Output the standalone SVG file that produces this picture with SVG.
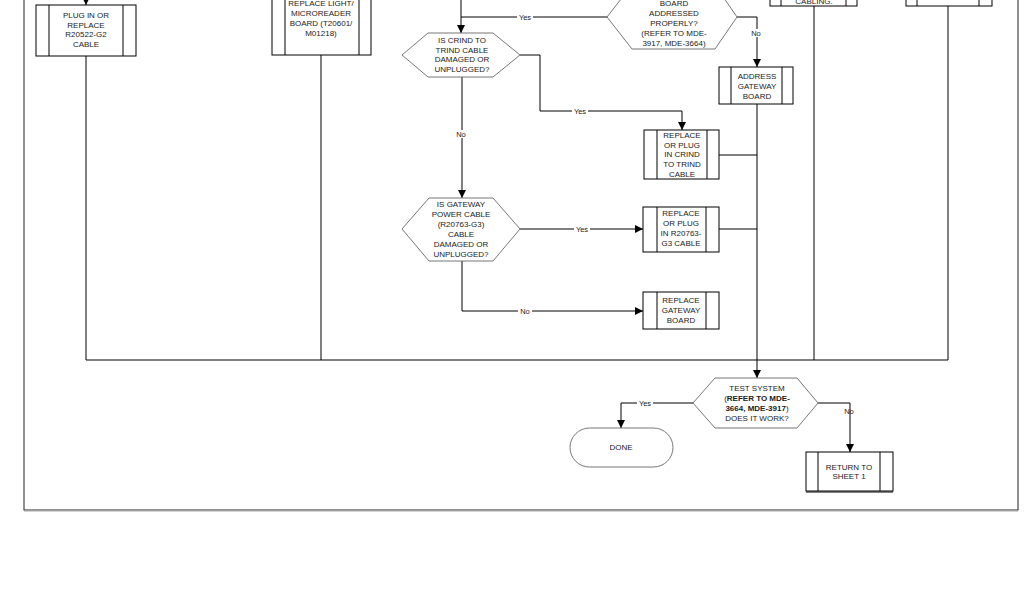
<svg xmlns="http://www.w3.org/2000/svg" width="1024" height="600" viewBox="0 0 1024 600">
<defs>
<marker id="arr" markerUnits="userSpaceOnUse" markerWidth="8" markerHeight="8" refX="8" refY="4" orient="auto">
<path d="M0,0 L8,4 L0,8 z" fill="#000"/>
</marker>
<style>
.box{fill:#fff;stroke:#000;stroke-width:1}
.in{stroke:#000;stroke-width:1}
.hex{fill:#fff;stroke:#777;stroke-width:1}
.t{font-family:"Liberation Sans",Arial,sans-serif;font-size:8px;fill:#222;text-anchor:middle}
.b{font-weight:bold}
.ln{fill:none;stroke:#000;stroke-width:1}
.lbl{font-family:"Liberation Sans",Arial,sans-serif;font-size:7.5px;fill:#222;text-anchor:middle}
.lb{fill:#fff}
</style>
</defs>
<rect x="0" y="0" width="1024" height="600" fill="#fff"/>
<rect x="24" y="-10" width="994" height="520" fill="none" stroke="#222" stroke-width="1"/>
<line x1="24" y1="511" x2="1018" y2="511" stroke="#aaa" stroke-width="1"/>

<g id="connectors">
<path class="ln" d="M86,-2 L86,5" marker-end="url(#arr)"/>
<path class="ln" d="M461,-2 L461,33" marker-end="url(#arr)"/>
<path class="ln" d="M608,17 L461,17"/>
<path class="ln" d="M520,55 L540,55 L540,111 L682,111 L682,130" marker-end="url(#arr)"/>
<path class="ln" d="M462,77 L462,198" marker-end="url(#arr)"/>
<path class="ln" d="M520,229 L643,229" marker-end="url(#arr)"/>
<path class="ln" d="M462,261 L462,311 L643,311" marker-end="url(#arr)"/>
<path class="ln" d="M737,17 L757,17 L757,67" marker-end="url(#arr)"/>
<path class="ln" d="M757,104 L757,378" marker-end="url(#arr)"/>
<path class="ln" d="M719,155 L757,155"/>
<path class="ln" d="M719,229 L757,229"/>
<path class="ln" d="M86,56 L86,360 L948,360 L948,6"/>
<path class="ln" d="M321,55 L321,360"/>
<path class="ln" d="M814,6 L814,360"/>
<path class="ln" d="M693,403 L621,403 L621,428" marker-end="url(#arr)"/>
<path class="ln" d="M818,403 L850,403 L850,452" marker-end="url(#arr)"/>
<rect class="lb" x="517" y="13" width="16" height="8"/><text class="lbl" x="525" y="19.5">Yes</text>
<rect class="lb" x="572" y="107" width="16" height="8"/><text class="lbl" x="580" y="113.5">Yes</text>
<rect class="lb" x="455" y="130" width="14" height="8"/><text class="lbl" x="461" y="136.5">No</text>
<rect class="lb" x="574" y="225" width="16" height="8"/><text class="lbl" x="582" y="231.5">Yes</text>
<rect class="lb" x="518" y="307" width="14" height="8"/><text class="lbl" x="525" y="313.5">No</text>
<rect class="lb" x="750" y="29" width="14" height="8"/><text class="lbl" x="756" y="35.5">No</text>
<rect class="lb" x="637" y="399" width="16" height="8"/><text class="lbl" x="645" y="405.5">Yes</text>
<text class="lbl" x="849" y="413.5">No</text>
</g>

<g id="n-plug-r20522">
<rect class="box" x="36" y="5" width="100" height="51"/>
<line class="in" x1="49" y1="5" x2="49" y2="56"/><line class="in" x1="123" y1="5" x2="123" y2="56"/>
<text class="t" x="86" y="18">PLUG IN OR</text>
<text class="t" x="86" y="27.5">REPLACE</text>
<text class="t" x="86" y="37">R20522-G2</text>
<text class="t" x="86" y="47">CABLE</text>
</g>

<g id="n-replace-light">
<rect class="box" x="272" y="-10" width="99" height="65"/>
<line class="in" x1="285" y1="-10" x2="285" y2="55"/><line class="in" x1="359" y1="-10" x2="359" y2="55"/>
<text class="t" x="321" y="5.5">REPLACE LIGHT/</text>
<text class="t" x="321" y="15.5">MICROREADER</text>
<text class="t" x="321" y="25.5">BOARD (T20601/</text>
<text class="t" x="321" y="35.5">M01218)</text>
</g>

<g id="n-board-addressed">
<polygon class="hex" points="607,17 632,-15 715,-15 737,17 715,49 632,49"/>
<text class="t" x="674" y="5.5">BOARD</text>
<text class="t" x="674" y="15.5">ADDRESSED</text>
<text class="t" x="674" y="25.5">PROPERLY?</text>
<text class="t" x="674" y="35.5">(REFER TO MDE-</text>
<text class="t" x="674" y="45.5">3917, MDE-3664)</text>
</g>

<g id="n-cabling">
<rect class="box" x="770" y="-10" width="87" height="16"/>
<line class="in" x1="781" y1="-10" x2="781" y2="6"/><line class="in" x1="846" y1="-10" x2="846" y2="6"/>
<text class="t" x="814" y="3.5">CABLING.</text>
</g>

<g id="n-right-box">
<rect class="box" x="906" y="-10" width="86" height="16"/>
<line class="in" x1="917" y1="-10" x2="917" y2="6"/><line class="in" x1="979" y1="-10" x2="979" y2="6"/>
</g>

<g id="n-crind-damaged">
<polygon class="hex" points="402,55 428,33 493,33 520,55 493,77 428,77"/>
<text class="t" x="462" y="43">IS CRIND TO</text>
<text class="t" x="462" y="52.5">TRIND CABLE</text>
<text class="t" x="462" y="62">DAMAGED OR</text>
<text class="t" x="462" y="72">UNPLUGGED?</text>
</g>

<g id="n-address-gateway">
<rect class="box" x="719" y="67" width="74" height="37"/>
<line class="in" x1="731" y1="67" x2="731" y2="104"/><line class="in" x1="782" y1="67" x2="782" y2="104"/>
<text class="t" x="757" y="79">ADDRESS</text>
<text class="t" x="757" y="89">GATEWAY</text>
<text class="t" x="757" y="99">BOARD</text>
</g>

<g id="n-replace-crind">
<rect class="box" x="644" y="130" width="75" height="49"/>
<line class="in" x1="657" y1="130" x2="657" y2="179"/><line class="in" x1="707" y1="130" x2="707" y2="179"/>
<text class="t" x="682" y="137.5">REPLACE</text>
<text class="t" x="682" y="147.5">OR PLUG</text>
<text class="t" x="682" y="157">IN CRIND</text>
<text class="t" x="682" y="167">TO TRIND</text>
<text class="t" x="682" y="176.5">CABLE</text>
</g>

<g id="n-gateway-power">
<polygon class="hex" points="402,229 429,198 493,198 520,229 493,261 429,261"/>
<text class="t" x="461" y="207">IS GATEWAY</text>
<text class="t" x="461" y="217">POWER CABLE</text>
<text class="t" x="461" y="227">(R20763-G3)</text>
<text class="t" x="461" y="237">CABLE</text>
<text class="t" x="461" y="247">DAMAGED OR</text>
<text class="t" x="461" y="257">UNPLUGGED?</text>
</g>

<g id="n-replace-r20763">
<rect class="box" x="643" y="207" width="76" height="45"/>
<line class="in" x1="657" y1="207" x2="657" y2="252"/><line class="in" x1="706" y1="207" x2="706" y2="252"/>
<text class="t" x="681" y="216">REPLACE</text>
<text class="t" x="681" y="226">OR PLUG</text>
<text class="t" x="681" y="236">IN R20763-</text>
<text class="t" x="681" y="246">G3 CABLE</text>
</g>

<g id="n-replace-gateway">
<rect class="box" x="643" y="292" width="76" height="37"/>
<line class="in" x1="657" y1="292" x2="657" y2="329"/><line class="in" x1="706" y1="292" x2="706" y2="329"/>
<text class="t" x="681" y="303">REPLACE</text>
<text class="t" x="681" y="313">GATEWAY</text>
<text class="t" x="681" y="323">BOARD</text>
</g>

<g id="n-test-system">
<polygon class="hex" points="693,403 715,378 797,378 818,403 797,428 715,428"/>
<text class="t" x="757" y="391">TEST SYSTEM</text>
<text class="t" x="757" y="401">(<tspan class="b">REFER TO MDE-</tspan></text>
<text class="t" x="757" y="411"><tspan class="b">3664, MDE-3917</tspan>)</text>
<text class="t" x="757" y="421">DOES IT WORK?</text>
</g>

<g id="n-done">
<rect class="hex" x="570" y="428" width="103" height="39" rx="19.5" ry="19.5"/>
<text class="t" x="621" y="450">DONE</text>
</g>

<g id="n-return">
<rect class="box" x="806" y="452" width="87" height="39"/>
<line class="in" x1="818" y1="452" x2="818" y2="491"/><line class="in" x1="880" y1="452" x2="880" y2="491"/>
<line x1="806" y1="492" x2="893" y2="492" stroke="#000" stroke-width="1"/>
<text class="t" x="849" y="469.5">RETURN TO</text>
<text class="t" x="849" y="479">SHEET 1</text>
</g>
</svg>
